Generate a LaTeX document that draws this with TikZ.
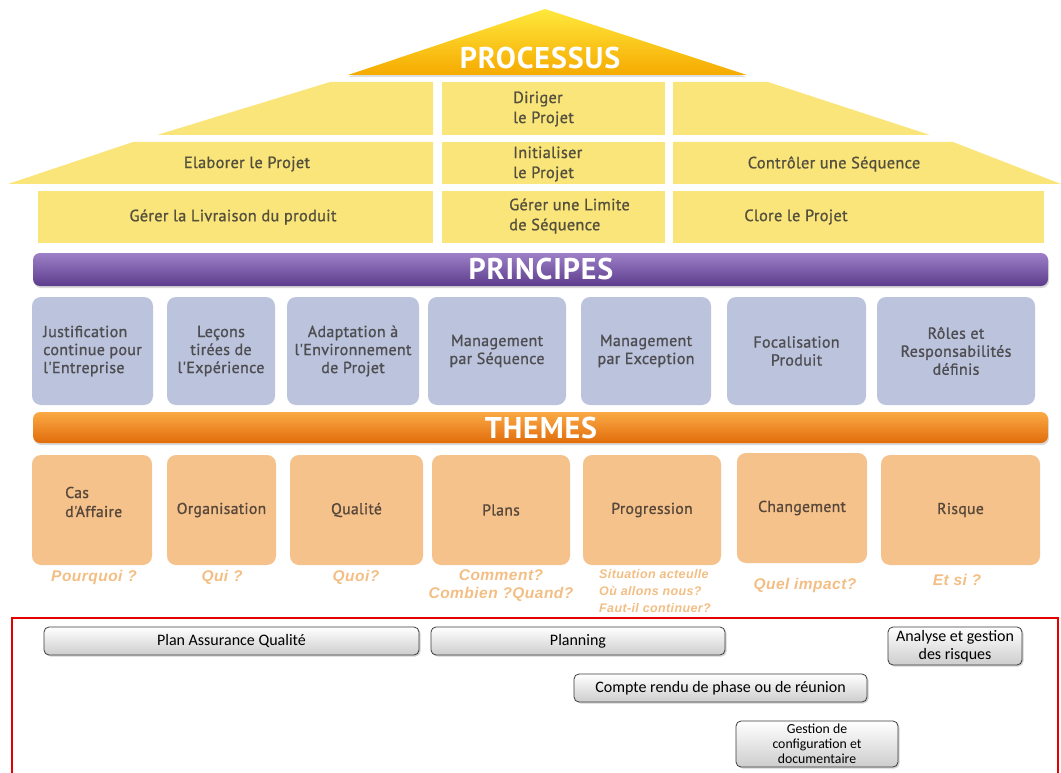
\documentclass[tikz,border=0pt]{standalone}
\usepackage{fontspec}
\setmainfont{PT Sans}
\newfontfamily\medfont{PT Sans}[FakeBold=1.1,LetterSpace=2]
\newfontfamily\headfont{PT Sans Bold}[LetterSpace=3]
\newfontfamily\qfont{Liberation Sans}[LetterSpace=3]
\newfontfamily\cfont{Carlito}
\usetikzlibrary{shadows}
\definecolor{yel}{RGB}{250,229,122}
\definecolor{yeltxt}{RGB}{85,80,62}
\definecolor{pbox}{RGB}{188,195,220}
\definecolor{ptxt}{RGB}{78,78,82}
\definecolor{tbox}{RGB}{245,194,140}
\definecolor{ttxt}{RGB}{88,72,58}
\definecolor{qcol}{RGB}{243,190,132}
\definecolor{redline}{RGB}{226,0,0}
\begin{document}
\begin{tikzpicture}[x=1pt,y=-1pt,
  ytext/.style={text=yeltxt,font=\medfont\fontsize{16.3}{20}\selectfont,inner sep=0pt},
  yrect/.style={fill=yel,inner sep=0pt},
  header/.style={text=white,font=\headfont\fontsize{30}{32}\selectfont,inner sep=0pt},
  princbox/.style={fill=pbox,rounded corners=9,inner sep=0pt,align=center,
    text=ptxt,font=\medfont\fontsize{16}{18}\selectfont},
  themebox/.style={fill=tbox,rounded corners=9,inner sep=0pt,align=center,
    text=ttxt,font=\medfont\fontsize{15.7}{19}\selectfont},
  qtext/.style={text=qcol,font=\qfont\fontsize{15.5}{18}\bfseries\itshape\selectfont,inner sep=0pt,align=center},
  greybox/.style={draw={rgb,255:red,60;green,60;blue,60},line width=0.8pt,rounded corners=5,
    top color=white,bottom color={rgb,255:red,205;green,205;blue,205},
    drop shadow={shadow xshift=1.5pt,shadow yshift=-1.5pt,opacity=0.35},
    inner sep=0pt,align=center,font=\cfont\fontsize{16}{18}\selectfont}
]
\useasboundingbox (0,0) rectangle (1061,773);

% roof
\path[top color={rgb,255:red,255;green,232;blue,60},bottom color={rgb,255:red,246;green,170;blue,0},
  drop shadow={shadow xshift=0pt,shadow yshift=-2pt,opacity=0.25}]
  (348,75) -- (545,9) -- (747,75) -- cycle;
\node[header] (proc) at (540,58) {PROCESSUS};

% process rows
\fill[yel] (330,82) -- (433,82) -- (433,135) -- (157,135) -- cycle;
\node[yrect,minimum width=223,minimum height=53] (r1m) at (553.5,108.5) {};
\fill[yel] (673,82) -- (768,82) -- (930,135) -- (673,135) -- cycle;

\fill[yel] (133,142) -- (433,142) -- (433,184) -- (8,184) -- cycle;
\node[yrect,minimum width=223,minimum height=42] (r2m) at (553.5,163) {};
\fill[yel] (673,142) -- (953,142) -- (1061,184) -- (673,184) -- cycle;

\node[yrect,minimum width=395,minimum height=52] (r3l) at (235.5,217) {};
\node[yrect,minimum width=223,minimum height=52] (r3m) at (553.5,217) {};
\node[yrect,minimum width=371,minimum height=52] (r3r) at (858.5,217) {};

\node[ytext,anchor=west,align=left] (dir) at (513,109) {Diriger\\le Projet};
\node[ytext] (elab) at (247,164) {Elaborer le Projet};
\node[ytext,anchor=west,align=left] (init) at (513,164) {Initialiser\\le Projet};
\node[ytext] (ctrl) at (834,164) {Contrôler une Séquence};
\node[ytext] (livr) at (233,217) {Gérer la Livraison du produit};
\node[ytext,anchor=west,align=left] (lim) at (509,216) {Gérer une Limite\\de Séquence};
\node[ytext] (clore) at (796,217) {Clore le Projet};

% principes bar
\node[rounded corners=7,top color={rgb,255:red,158;green,128;blue,200},bottom color={rgb,255:red,92;green,60;blue,140},
  drop shadow={shadow xshift=1pt,shadow yshift=-2pt,opacity=0.3},
  minimum width=1015,minimum height=33,inner sep=0pt] (pbar) at (540.5,269.5) {};
\node[header] (ptitle) at (541,269) {PRINCIPES};

\node[princbox,minimum width=121,minimum height=108,align=left] (p1) at (92.5,351) {Justification\\continue pour\\l'Entreprise};
\node[princbox,minimum width=108,minimum height=108] (p2) at (221,351) {Leçons\\tirées de\\l'Expérience};
\node[princbox,minimum width=132,minimum height=108] (p3) at (353,351) {Adaptation à\\l'Environnement\\de Projet};
\node[princbox,minimum width=138,minimum height=108] (p4) at (497,351) {Management\\par Séquence};
\node[princbox,minimum width=130,minimum height=108] (p5) at (646,351) {Management\\par Exception};
\node[princbox,minimum width=139,minimum height=108] (p6) at (796.5,351) {Focalisation\\Produit};
\node[princbox,minimum width=158,minimum height=108] (p7) at (956,351) {Rôles et\\Responsabilités\\définis};

% themes bar
\node[rounded corners=7,top color={rgb,255:red,250;green,170;blue,70},bottom color={rgb,255:red,225;green,108;blue,10},
  drop shadow={shadow xshift=1pt,shadow yshift=-2pt,opacity=0.3},
  minimum width=1015,minimum height=31,inner sep=0pt] (tbar) at (540.5,427.5) {};
\node[header] (ttitle) at (541,428) {THEMES};

\node[themebox,minimum width=120,minimum height=110] (t1) at (92,510) {};
\node[themebox,fill=none,anchor=west,align=left] (t1t) at (65,502) {Cas\\d'Affaire};
\node[themebox,minimum width=109,minimum height=110] (t2) at (221.5,510) {Organisation};
\node[themebox,minimum width=133,minimum height=110] (t3) at (356.5,510) {Qualité};
\node[themebox,minimum width=138,minimum height=110] (t4) at (501,510) {Plans};
\node[themebox,minimum width=138,minimum height=110] (t5) at (652,510) {Progression};
\node[themebox,minimum width=130,minimum height=110] (t6) at (802,508) {Changement};
\node[themebox,minimum width=159,minimum height=110] (t7) at (960.5,510) {Risque};

% questions
\node[qtext] (q1) at (94,577) {Pourquoi ?};
\node[qtext] (q2) at (222,577) {Qui ?};
\node[qtext] (q3) at (356,577) {Quoi?};
\node[qtext] (q4) at (501,586) {Comment?\\Combien ?Quand?};
\node[qtext,font=\qfont\fontsize{12.5}{17}\bfseries\itshape\selectfont,anchor=north west,align=left] (q5) at (599,569) {Situation acteulle\\Où allons nous?\\Faut-il continuer?};
\node[qtext] (q6) at (805,585) {Quel impact?};
\node[qtext] (q7) at (957,580) {Et si ?};

% red frame
\draw[redline,line width=2pt] (12,790) -- (12,618) -- (1058,618) -- (1058,790);

% grey boxes
\node[greybox,minimum width=375,minimum height=28] (paq) at (231.5,641) {Plan Assurance Qualité};
\node[greybox,minimum width=294,minimum height=28] (plan) at (578,641) {Planning};
\node[greybox,minimum width=134,minimum height=38] (risk) at (955,646) {Analyse et gestion\\des risques};
\node[greybox,minimum width=293,minimum height=28] (cr) at (720.5,688) {Compte rendu de phase ou de réunion};
\node[greybox,minimum width=162,minimum height=46,font=\cfont\fontsize{13.8}{15}\selectfont] (gc) at (817,744) {Gestion de\\configuration et\\documentaire};
\end{tikzpicture}
\end{document}
